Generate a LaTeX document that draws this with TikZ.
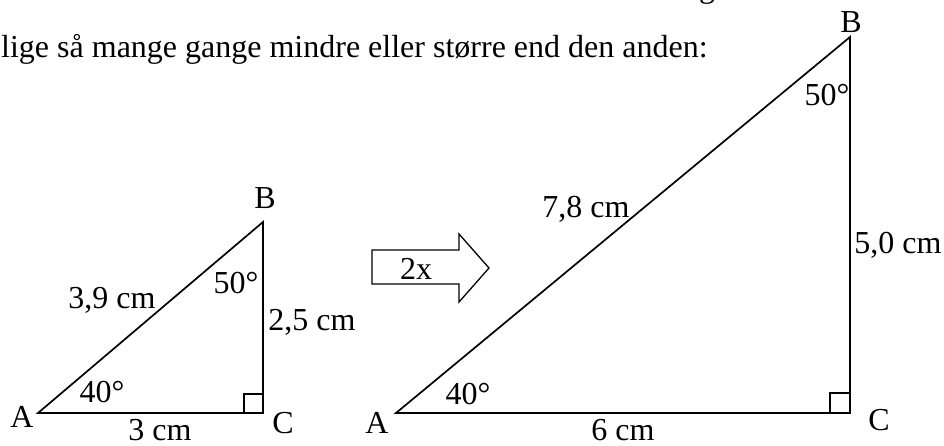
\documentclass[tikz,border=0pt]{standalone}
\usepackage{fontspec}
\setmainfont{Liberation Serif}
\begin{document}
\begin{tikzpicture}[x=1pt,y=-1pt,
  lbl/.style={inner sep=0pt,anchor=base,font=\fontsize{32}{37}\selectfont},
  edge/.style={line width=1.7pt,line join=miter},
  rsq/.style={line width=1.5pt}]
\useasboundingbox (0,0) rectangle (944,445);
\clip (0,0) rectangle (944,445);
% header text
\node[lbl,anchor=base west] (hdr) at (1,57) {lige så mange gange mindre eller større end den anden:};
\node[lbl] (gfrag) at (707,-3) {g};
% small triangle
\coordinate (A1) at (38,413);
\coordinate (B1) at (263,222);
\coordinate (C1) at (263,413);
\draw[edge] (A1) -- (C1) -- (B1) -- cycle;
\draw[rsq] ([xshift=-19pt]C1) -- ++(0,-19) -- ++(19,0);
\node[lbl] (a1) at (22,427) {A};
\node[lbl] (b1) at (265,208) {B};
\node[lbl] (c1) at (283,433) {C};
\node[lbl] (s1) at (160,440) {3 cm};
\node[lbl] (h1) at (112,308) {3,9 cm};
\node[lbl] (v1) at (312,330) {2,5 cm};
\node[lbl] (ang1) at (236,293) {50°};
\node[lbl] (ang2) at (102,402) {40°};
% arrow
\draw[line width=1.3pt] (372,250) -- (459,250) -- (459,234) -- (489,268) -- (459,302) -- (459,284) -- (372,284) -- cycle;
\node[lbl] (twox) at (416,279) {2x};
% big triangle
\coordinate (A2) at (396,413);
\coordinate (B2) at (850,37);
\coordinate (C2) at (850,413);
\draw[edge] (A2) -- (C2) -- (B2) -- cycle;
\draw[rsq] ([xshift=-20pt]C2) -- ++(0,-20) -- ++(20,0);
\node[lbl] (a2) at (377,433) {A};
\node[lbl] (b2) at (851,32) {B};
\node[lbl] (c2) at (879,430) {C};
\node[lbl] (s2) at (623,440) {6 cm};
\node[lbl] (h2) at (586,217) {7,8 cm};
\node[lbl] (v2) at (898,253) {5,0 cm};
\node[lbl] (ang3) at (827,105) {50°};
\node[lbl] (ang4) at (468,404) {40°};
\end{tikzpicture}
\end{document}
